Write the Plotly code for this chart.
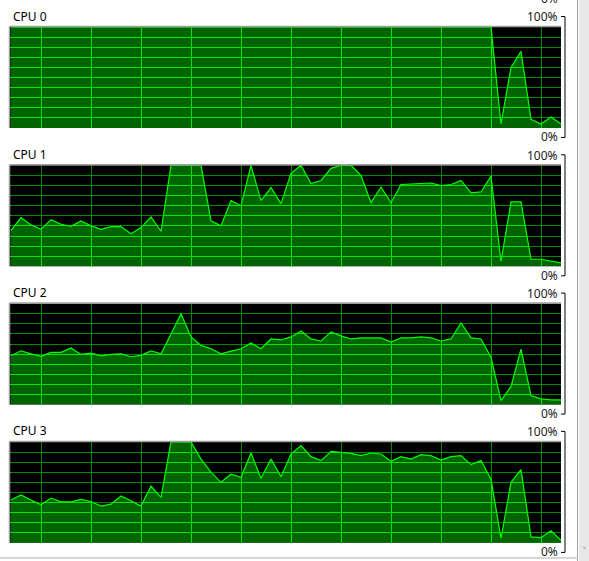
import numpy as np
import plotly.graph_objects as go

W, H = 589, 561

# ---- data (CPU usage %, one sample per step, 56 samples) ----
labels = ["CPU 0", "CPU 1", "CPU 2", "CPU 3"]
samples = list(range(56))

cpu0 = [100] * 49 + [4, 60, 76, 8.5, 4, 11, 4]

cpu1 = [35.6, 48.2, 41, 36.6, 46.2, 41.6, 39.6, 44.9, 40, 36.6,
        39.3, 39.3, 32.3, 38.3, 48.8, 34.7, 100, 100, 100, 100,
        45, 40, 65, 60, 100, 65, 78, 62, 92, 100,
        82, 85, 97, 100, 100, 90, 63, 78.5, 63, 81,
        81.5, 82, 82.5, 80, 81, 85, 72.6, 73.6, 89.4, 5,
        63.7, 63.7, 7, 7, 5, 3.3]

cpu2 = [48.3, 53.3, 50.3, 47.7, 51.7, 51.7, 56, 49.7, 51, 48.3,
        49.7, 50.3, 47.4, 48.7, 53.3, 50.3, 70, 90, 67, 58.6,
        55.3, 50.3, 53, 55.3, 61, 55.3, 65, 64, 67, 72.8,
        65, 63, 72, 68, 65, 66, 66, 66, 62, 66,
        66, 67, 66, 63, 65, 81, 66, 65, 47, 4,
        18, 55, 9, 5.6, 4.6, 4.6]

cpu3 = [42.4, 47.4, 42.4, 37.7, 44.4, 40.7, 40.7, 43, 41, 36.4,
        38.4, 46.4, 41.7, 36.4, 56.3, 45, 100, 100, 100, 83,
        70, 60, 68, 65, 89, 64, 83, 65.6, 88, 96.4,
        85.4, 81.5, 90.7, 89.7, 88.7, 86.4, 89, 88, 80.8, 85.4,
        83, 87.4, 86.4, 82, 85.4, 86.4, 77.5, 81.5, 63, 4.6,
        60, 72.5, 6, 5.3, 12, 2.6]

series = [cpu0, cpu1, cpu2, cpu3]
y_ticks = [10, 20, 30, 40, 50, 60, 70, 80, 90]
x_ticks = [3, 8, 13, 18, 23, 28, 33, 38, 43, 48, 53]
top_label = "100%"
bottom_label = "0%"

# ---- styling ----
FONT = "Noto Sans"
GRID = "rgb(0,214,0)"
FILL = "rgba(0,255,0,0.392)"
MASK = "rgba(0,0,0,0.36)"
LINE = "#00FF00"

X0, X1 = 10, 561
PANEL_TOP0, PANEL_STEP, PANEL_H = 27, 138.3, 101


def px(x):
    return x / W


def py(y):
    return 1 - y / H


fig = go.Figure()
shapes = []
annotations = []

for k, (name, vals) in enumerate(zip(labels, series)):
    top = PANEL_TOP0 + PANEL_STEP * k
    bot = top + PANEL_H
    ax = "" if k == 0 else str(k + 1)
    xa, ya = "x" + ax, "y" + ax
    ceiling = np.full(len(samples), 100.0)
    fig.add_trace(go.Scatter(x=samples, y=ceiling, mode="lines",
                             line=dict(width=0, color="rgba(0,0,0,0)"),
                             hoverinfo="skip", showlegend=False, xaxis=xa, yaxis=ya))
    fig.add_trace(go.Scatter(x=samples, y=vals, mode="lines", fill="tonexty",
                             fillcolor=MASK, line=dict(width=0, color="rgba(0,0,0,0)"),
                             hoverinfo="skip", showlegend=False, xaxis=xa, yaxis=ya))
    fig.add_trace(go.Scatter(x=samples, y=vals, mode="lines", fill="tozeroy",
                             fillcolor=FILL, line=dict(width=1.2, color=LINE),
                             name=name, showlegend=False, xaxis=xa, yaxis=ya))
    fig.layout["xaxis" + ax] = dict(
        domain=[px(X0), px(X1)], range=[-0.1, 55], anchor=ya,
        tickvals=x_ticks, showticklabels=False, ticks="",
        showgrid=True, gridcolor=GRID, gridwidth=1, zeroline=False, showline=False,
        fixedrange=True)
    fig.layout["yaxis" + ax] = dict(
        domain=[py(bot), py(top)], range=[0, 100], anchor=xa,
        tickvals=y_ticks, showticklabels=False, ticks="",
        showgrid=True, gridcolor=GRID, gridwidth=1, zeroline=False, showline=False,
        fixedrange=True)

    # sunken border (top + left)
    shapes.append(dict(type="line", xref="paper", yref="paper",
                       x0=px(X0 - 0.5), x1=px(X1), y0=py(top - 0.5), y1=py(top - 0.5),
                       line=dict(color="#A0A0A0", width=1.5)))
    shapes.append(dict(type="line", xref="paper", yref="paper",
                       x0=px(X0 - 0.5), x1=px(X0 - 0.5), y0=py(top - 0.5), y1=py(bot),
                       line=dict(color="#A0A0A0", width=1.5)))

    # labels
    annotations.append(dict(text=name, xref="paper", yref="paper",
                            x=px(11), y=py(top - 11), xanchor="left", yanchor="middle",
                            showarrow=False, font=dict(family=FONT, size=12, color="#000")))
    for lab, yy in ((top_label, top - 10), (bottom_label, bot + 9)):
        annotations.append(dict(text=lab, xref="paper", yref="paper",
                                x=px(559.5), y=py(yy), xanchor="right", yanchor="middle",
                                showarrow=False, font=dict(family=FONT, size=12, color="#1a1a1a")))
    # bracket
    yt, yb = top - 10.5, bot + 9.5
    shapes.append(dict(type="line", xref="paper", yref="paper",
                       x0=px(565), x1=px(565), y0=py(yt), y1=py(yb),
                       line=dict(color="#000", width=1)))
    for yy in (yt, yb):
        shapes.append(dict(type="line", xref="paper", yref="paper",
                           x0=px(561), x1=px(565), y0=py(yy), y1=py(yy),
                           line=dict(color="#000", width=1)))

# partially visible bracket of the panel scrolled above
prev_bot = PANEL_TOP0 - PANEL_STEP + PANEL_H
annotations.append(dict(text=bottom_label, xref="paper", yref="paper",
                        x=px(559.5), y=py(prev_bot + 9), xanchor="right", yanchor="middle",
                        showarrow=False, font=dict(family=FONT, size=12, color="#1a1a1a")))
shapes.append(dict(type="line", xref="paper", yref="paper",
                   x0=px(565), x1=px(565), y0=py(prev_bot - 30), y1=py(prev_bot + 9.5),
                   line=dict(color="#000", width=1)))
shapes.append(dict(type="line", xref="paper", yref="paper",
                   x0=px(561), x1=px(565), y0=py(prev_bot + 9.5), y1=py(prev_bot + 9.5),
                   line=dict(color="#000", width=1)))

# window chrome: scrollbar & bottom separator
shapes.append(dict(type="rect", xref="paper", yref="paper",
                   x0=px(579), x1=px(W), y0=0, y1=1,
                   fillcolor="#E8E8E8", line=dict(width=0)))
shapes.append(dict(type="line", xref="paper", yref="paper",
                   x0=px(577.5), x1=px(577.5), y0=0, y1=1,
                   line=dict(color="#A0A0A0", width=1)))
shapes.append(dict(type="line", xref="paper", yref="paper",
                   x0=0, x1=px(578), y0=py(558), y1=py(558),
                   line=dict(color="#C8C8C8", width=1.5)))
annotations.append(dict(text="˅", xref="paper", yref="paper",
                        x=px(584), y=py(551), xanchor="center", yanchor="middle",
                        showarrow=False, font=dict(family=FONT, size=10, color="#606060")))

fig.update_layout(width=W, height=H, margin=dict(l=0, r=0, t=0, b=0),
                  paper_bgcolor="white", plot_bgcolor="black",
                  shapes=shapes, annotations=annotations, showlegend=False)

fig.write_html("out.html", config={"displayModeBar": False},
               post_script="document.body.style.margin='0';document.body.style.padding='0';"
                           "document.body.style.overflow='hidden';")
